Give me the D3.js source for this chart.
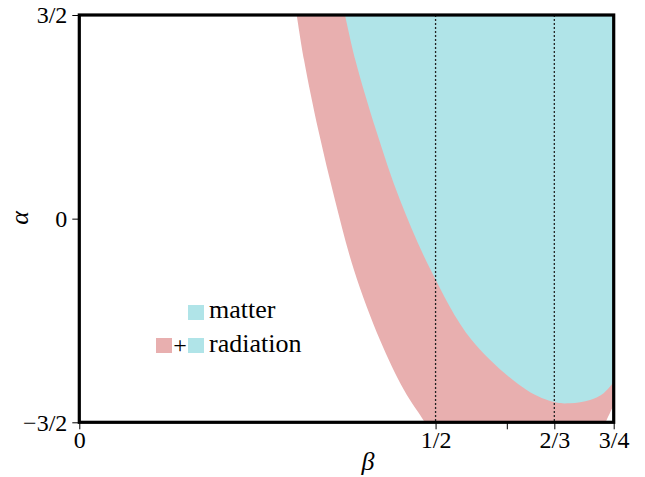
<!DOCTYPE html>
<html><head><meta charset="utf-8">
<script src="https://cdn.jsdelivr.net/npm/d3@7"></script>
<style>body{margin:0;background:#fff}svg{display:block}
svg text{font-family:"Liberation Serif","Tinos","Noto Serif","DejaVu Serif","Times New Roman","Times","FreeSerif","Nimbus Roman",serif !important;}</style>
</head><body>
<svg id="c" width="645" height="477"></svg>
<script>
// ---- data (beta, alpha) ----
const pinkOuterLeft = [[0.3051,1.5],[0.3154,1.1685],[0.3354,0.653],[0.3588,0.137],[0.3855,-0.378],[0.422,-0.894],[0.4557,-1.262],[0.4828,-1.483],[0.4845,-1.5]];
const pinkOuterRight = [[0.7385,-1.5],[0.7486,-1.385],[0.75,-1.36]];
const cyanBoundary = [[0.3729,1.5],[0.3874,1.1685],[0.4164,0.653],[0.4501,0.137],[0.4932,-0.378],[0.5507,-0.894],[0.6279,-1.262],[0.6677,-1.353],[0.6887,-1.36],[0.7168,-1.336],[0.7354,-1.287],[0.7486,-1.213],[0.75,-1.2]];
const xTicks = [0, 0.5, 0.6, 2/3, 0.75];
const xTickLabels = ["0","1/2","","2/3","3/4"];
const yTicks = [1.5, 0, -1.5];
const yTickLabels = ["3/2","0","\u22123/2"];
const dottedAt = [0.5, 2/3];
const legendItems = ["matter","radiation"];

const colPink = "#e8afaf", colCyan = "#b0e4e8";
const svg = d3.select("#c");
const x = d3.scaleLinear().domain([0,0.75]).range([79.3,613.7]);
const y = d3.scaleLinear().domain([-1.5,1.5]).range([422.3,15]);

svg.append("clipPath").attr("id","clip").append("rect")
  .attr("x",x(0)).attr("y",y(1.5)).attr("width",x(0.75)-x(0)).attr("height",y(-1.5)-y(1.5));
const g = svg.append("g").attr("clip-path","url(#clip)");

const line = d3.line().x(d=>x(d[0])).y(d=>y(d[1])).curve(d3.curveCatmullRom.alpha(0.5));
const pinkD = line(pinkOuterLeft) + "L" + line(pinkOuterRight).slice(1) + "L" + x(0.76)+","+y(1.6) + "L" + x(0.3)+","+y(1.6)+"Z";
g.append("path").attr("d",pinkD).attr("fill",colPink);
const cyanD = line(cyanBoundary) + "L" + x(0.76)+","+y(-1.2) + "L" + x(0.76)+","+y(1.6)+"L"+x(0.3729)+","+y(1.6)+"Z";
g.append("path").attr("d",cyanD).attr("fill",colCyan);

g.selectAll("line.dot").data(dottedAt).join("line")
  .attr("x1",d=>x(d)).attr("x2",d=>x(d)).attr("y1",y(1.5)).attr("y2",y(-1.5))
  .attr("stroke","#222").attr("stroke-width",1.3).attr("stroke-dasharray","2,2");

// axes
const xa = svg.append("g").attr("transform",`translate(0,${y(-1.5)})`)
  .call(d3.axisBottom(x).tickValues(xTicks).tickSize(7).tickFormat((d,i)=>xTickLabels[i]));
const ya = svg.append("g").attr("transform",`translate(${x(0)},0)`)
  .call(d3.axisLeft(y).tickValues(yTicks).tickSize(7).tickFormat((d,i)=>yTickLabels[i]));
[xa,ya].forEach(a=>{
  a.attr("font-family",null).attr("font-size",null);
  a.select(".domain").remove();
  a.selectAll("line").attr("stroke","#000").attr("stroke-width",1);
  a.selectAll("text").style("font-size","24px").attr("fill","#000");
});
xa.selectAll("text").attr("dy","0.75em").attr("y",8);
ya.selectAll("text").attr("x",-12).attr("dy","0.33em");

// frame
svg.append("rect").attr("x",x(0)).attr("y",y(1.5)).attr("width",x(0.75)-x(0)).attr("height",y(-1.5)-y(1.5))
  .attr("fill","none").attr("stroke","#000").attr("stroke-width",3.2);

// axis titles
svg.append("text").attr("transform","translate(28,218) rotate(-90)").attr("text-anchor","middle")
  .style("font-style","italic").style("font-size","26px").text("\u03b1");
svg.append("text").attr("x",368).attr("y",470).attr("text-anchor","middle")
  .style("font-style","italic").style("font-size","26px").text("\u03b2");

// legend
const lg = svg.append("g");
lg.append("rect").attr("x",188).attr("y",305).attr("width",16).attr("height",15).attr("fill",colCyan);
lg.append("text").attr("x",209).attr("y",318).style("font-size","26px").text(legendItems[0]);
lg.append("rect").attr("x",156).attr("y",338).attr("width",16).attr("height",15).attr("fill",colPink);
lg.append("text").attr("x",180).attr("y",353).attr("text-anchor","middle").style("font-size","24px").text("+");
lg.append("rect").attr("x",188).attr("y",338).attr("width",16).attr("height",15).attr("fill",colCyan);
lg.append("text").attr("x",209).attr("y",352).style("font-size","26px").text(legendItems[1]);
</script>
</body></html>
